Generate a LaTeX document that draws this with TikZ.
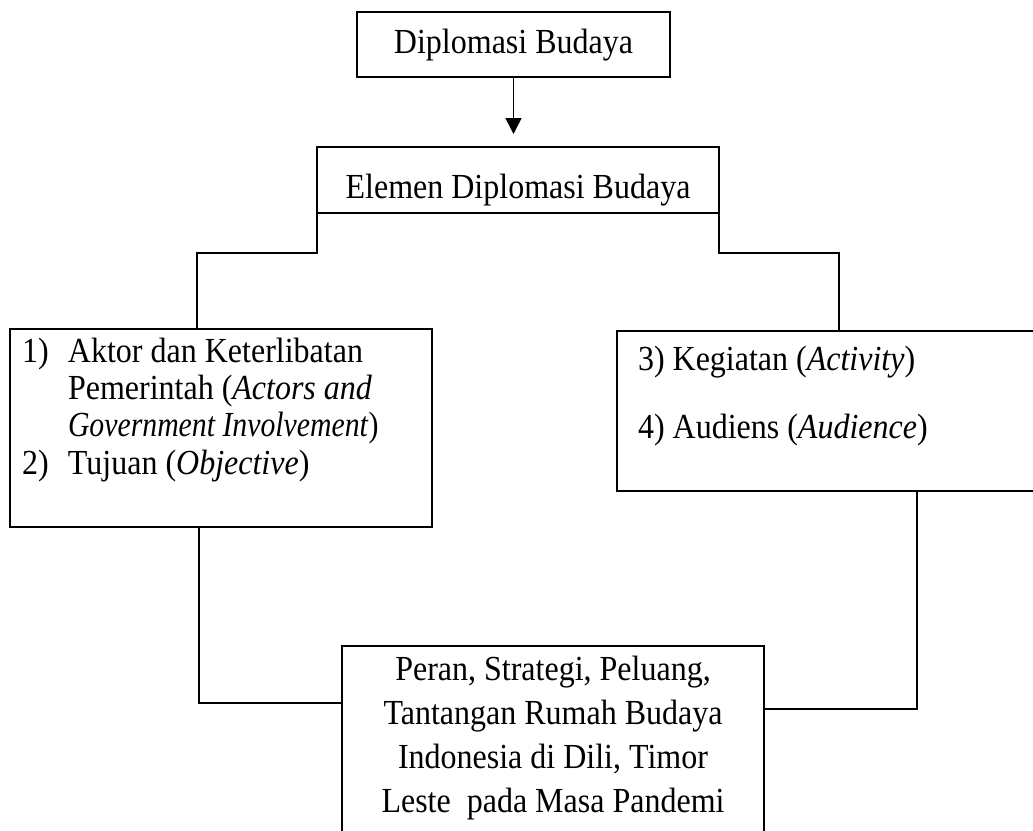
\documentclass[tikz,border=0pt]{standalone}
\usepackage{fontspec}
\usepackage{graphicx}
\setmainfont{Liberation Serif}
\usetikzlibrary{arrows.meta}
\newcommand{\tinggi}[1]{\scalebox{1}[1.1]{#1}}

\begin{document}
\begin{tikzpicture}[x=1pt, y=-1pt,
    font=\fontsize{32}{34}\selectfont,
    kotak/.style={draw, line width=1.6pt, inner sep=0pt, outer sep=0pt, anchor=north west},
    garis/.style={line width=1.6pt}]
      \useasboundingbox (0,0) rectangle (1033,830);
      \node (atas) at (357,12) [kotak, minimum width=313pt, text height=41pt, text depth=24pt] {\tinggi{Diplomasi Budaya}};
      \node (elemen) at (317,147) [kotak, minimum width=402pt, text height=51pt, text depth=15pt] {\tinggi{Elemen Diplomasi Budaya}};
      \node (kiri) at (10,329) [kotak, inner xsep=12pt, text height=33pt, text depth=165pt]
        {\makebox[398pt][l]{\tinggi{\begin{tabular}[t]{@{}p{46pt}@{}l@{}}
          1) & Aktor dan Keterlibatan\\
             & Pemerintah (\textit{Actors and}\\
             & \scalebox{0.93}[1]{\textit{Government Involvement})}\\
          2) & Tujuan (\textit{Objective})
        \end{tabular}}}};
      \node (kanan) at (617,331) [kotak, inner xsep=21pt, text height=39pt, text depth=121pt]
        {\makebox[386pt][l]{\tinggi{\begin{tabular}[t]{@{}l@{}}
          3) Kegiatan (\textit{Activity})\\[28pt]
          4) Audiens (\textit{Audience})
        \end{tabular}}}};
      \node (bawah) at (342,646) [kotak, minimum width=422pt, text height=34pt, text depth=170pt]
        {\fontsize{32}{40}\selectfont\tinggi{\begin{tabular}[t]{@{}c@{}}
          Peran, Strategi, Peluang,\\
          Tantangan Rumah Budaya\\
          Indonesia di Dili, Timor\\
          Leste\ \ pada Masa Pandemi
        \end{tabular}}};
      \coordinate (ujung) at (512,134);
      \coordinate (ka) at (197,253);
      \coordinate (kn) at (839,253);
      \coordinate (kb) at (199,703);
      \coordinate (nb) at (917,709);
      \draw[garis, -{Triangle[length=16pt,width=16pt]}] (atas.south) -- (atas.south |- ujung);
      \draw[garis] (elemen.south west) |- (ka) -- (ka |- kiri.north);
      \draw[garis] (elemen.south east) |- (kn) -- (kn |- kanan.north);
      \draw[garis] (kb |- kiri.south) |- (bawah.west |- kb);
      \draw[garis] (nb |- kanan.south) |- (bawah.east |- nb);

        \end{tikzpicture}
\end{document}
